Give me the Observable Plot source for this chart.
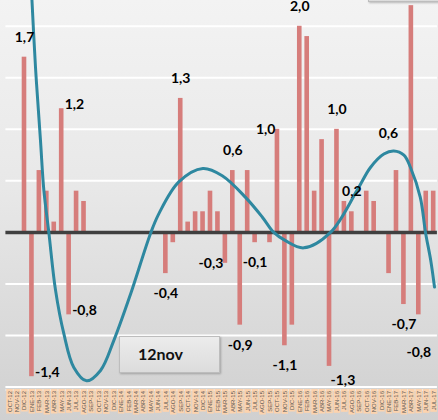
<!DOCTYPE html>
<html>
<head>
<meta charset="utf-8">
<script src="https://cdn.jsdelivr.net/npm/d3@7"></script>
<script src="https://cdn.jsdelivr.net/npm/@observablehq/plot@0.6"></script>
<style>
  body { margin: 0; }
  #chart {
    position: relative; width: 438px; height: 420px; overflow: hidden;
    background: linear-gradient(180deg, #f3f3f3 0%, #e8e8e8 45%, #d0d0d0 100%);
    font-family: Lato, "Open Sans", sans-serif;
  }
  #chart svg { position: absolute; left: 0; top: 0; }
  .note {
    position: absolute; box-sizing: border-box;
    background: linear-gradient(#ececec, #dcdcdc);
    border: 1.5px solid #bdbdbd;
    box-shadow: 1px 1px 2px rgba(0,0,0,0.25);
    font-weight: bold; color: #111;
  }
</style>
</head>
<body>
<div id="chart">
  <div class="note" style="left:119px;top:336px;width:101px;height:37px;padding-left:18px;font-size:16px;line-height:34px;">12nov</div>
  <div class="note" style="left:368px;top:-30px;width:80px;height:32px;"></div>
</div>
<script>
// Monthly categories, OCT-12 .. JUL-17
const months = [
  "OCT-12","NOV-12","DIC-12","ENE-13","FEB-13","MAR-13","ABR-13","MAY-13","JUN-13","JUL-13","AGO-13","SEP-13",
  "OCT-13","NOV-13","DIC-13","ENE-14","FEB-14","MAR-14","ABR-14","MAY-14","JUN-14","JUL-14","AGO-14","SEP-14",
  "OCT-14","NOV-14","DIC-14","ENE-15","FEB-15","MAR-15","ABR-15","MAY-15","JUN-15","JUL-15","AGO-15","SEP-15",
  "OCT-15","NOV-15","DIC-15","ENE-16","FEB-16","MAR-16","ABR-16","MAY-16","JUN-16","JUL-16","AGO-16","SEP-16",
  "OCT-16","NOV-16","DIC-16","ENE-17","FEB-17","MAR-17","ABR-17","MAY-17","JUN-17","JUL-17"
];

// Monthly variation
const values = [
  0, 0, 1.7, -1.4, 0.6, 0.4, 0.1, 1.2, -0.8, 0.4, 0.3, 0,
  0, 0, 0, 0, 0, 0, 0, 0, 0, -0.4, -0.1, 1.3,
  0.1, 0.2, 0.2, 0.4, 0.2, -0.3, 0.6, -0.9, 0.6, -0.1, 0, -0.1,
  1.0, -1.1, -0.9, 2.0, 1.9, 0.4, 0.9, -1.3, 1.0, 0.3, 0.2, 0,
  0.4, 0.3, 0, -0.4, 0.6, -0.7, 2.2, -0.8, 0.4, 0.4
];

// Trend curve (month position, value)
const trendMonth = [2.9, 3.48, 4.15, 4.6, 5.27, 6.17, 7.28, 8.63, 10.34, 12.22, 14.0, 16.25, 18.94, 20.05, 22.74,
  25.97, 28.58, 31.71, 33.95, 35.51, 37.08, 39.54, 43.13, 46.72, 48.5, 50.3, 51.64, 53.0, 53.88, 55.2, 55.9, 56.6, 57.11];
const trendValue = [2.4, 1.6, 0.89, 0.41, 0.0, -0.56, -0.98, -1.31, -1.44, -1.34, -1.05, -0.6, -0.01, 0.18, 0.49,
  0.62, 0.55, 0.34, 0.15, 0.0, -0.08, -0.15, 0.0, 0.41, 0.63, 0.76, 0.79, 0.75, 0.63, 0.34, 0.0, -0.27, -0.53];

// Value labels: month and where the label sits relative to the bar end
const labelMonths = ["DIC-12","ENE-13","MAY-13","JUN-13","JUL-14","SEP-14","MAR-15","ABR-15","MAY-15","JUL-15",
  "OCT-15","NOV-15","ENE-16","MAY-16","JUN-16","AGO-16","FEB-17","MAR-17","MAY-17"];
const labelSides = ["top","right","right","right","bottom","top","left","top","bottom","bottom",
  "left","bottom","top","below-right","top","top","high-left","bottom","far-below"];

// Grid levels
const gridLevels = [-1.5, -1, -0.5, 0.5, 1, 1.5, 2];

const rows = months.map((m, i) => ({i, month: m, value: values[i]}));
const trend = trendMonth.map((m, k) => ({m, v: trendValue[k]}));
const labels = labelMonths.map((m, k) => {
  const i = months.indexOf(m);
  return {i, value: values[i], side: labelSides[k]};
});
const fmt = v => v.toFixed(1).replace(".", ",");
const labelStyle = {x: "i", y: "value", text: d => fmt(d.value), fontSize: 14, fontWeight: "bold",
  fill: "#000", fontFamily: "Lato, 'Open Sans', sans-serif"};
const side = s => labels.filter(d => d.side === s);

const plot = Plot.plot({
  width: 438,
  height: 420,
  marginTop: 0,
  marginBottom: 33.5,
  marginLeft: 5.4,
  marginRight: 1.1,
  style: {background: "transparent", overflow: "visible"},
  x: {type: "linear", domain: [-0.5, months.length - 0.5], axis: null},
  y: {domain: [-1.5, 2.25], axis: null},
  marks: [
    Plot.ruleY(gridLevels, {stroke: "white", strokeWidth: 2}),
    Plot.ruleY([-1.5], {stroke: "white", strokeWidth: 1.2, dy: 3}),
    Plot.rectY(rows.filter(d => d.value !== 0), {x1: d => d.i - 0.31, x2: d => d.i + 0.31, y: "value", fill: "#d67d7b"}),
    Plot.ruleY([0], {stroke: "#404040", strokeWidth: 3.5}),
    Plot.line(trend, {x: "m", y: "v", stroke: "#2e88a0", strokeWidth: 3, curve: "catmull-rom", clip: true}),
    Plot.axisX(d3.range(months.length), {
      tickFormat: i => months[i], tickRotate: -90, tickSize: 0, tickPadding: 4,
      fontSize: 6, fill: "#555", fontFamily: "'Liberation Sans Narrow', 'Liberation Sans', sans-serif"
    }),
    Plot.text(side("top"), {...labelStyle, dy: -20}),
    Plot.text(side("high-left"), {...labelStyle, dx: -8, dy: -37}),
    Plot.text(side("bottom"), {...labelStyle, dy: 20}),
    Plot.text(side("far-below"), {...labelStyle, dy: 38}),
    Plot.text(side("below-right"), {...labelStyle, dx: 1, dy: 14, textAnchor: "start"}),
    Plot.text(side("right"), {...labelStyle, dx: 3, dy: -4, textAnchor: "start"}),
    Plot.text(side("left"), {...labelStyle, dx: -2, textAnchor: "end"})
  ]
});

const chart = document.getElementById("chart");
chart.insertBefore(plot, chart.firstChild);

// Peach tag behind each month label
const ns = "http://www.w3.org/2000/svg";
const frame = plot.getBoundingClientRect();
const tagTop = plot.scale("y").apply(-1.5) + 2.5;
const tickGroup = plot.querySelector('g[aria-label="x-axis tick label"]');
if (tickGroup) {
  const tags = document.createElementNS(ns, "g");
  tickGroup.querySelectorAll("text").forEach(t => {
    const r = t.getBoundingClientRect();
    const cx = (r.left + r.right) / 2 - frame.left;
    const rect = document.createElementNS(ns, "rect");
    rect.setAttribute("x", cx - 3.3);
    rect.setAttribute("y", tagTop);
    rect.setAttribute("width", 6.6);
    rect.setAttribute("height", Math.max(4, r.bottom - frame.top - tagTop + 1.5));
    rect.setAttribute("fill", "#fcd3ae");
    tags.appendChild(rect);
  });
  tickGroup.parentNode.insertBefore(tags, tickGroup);
}
</script>
</body>
</html>
